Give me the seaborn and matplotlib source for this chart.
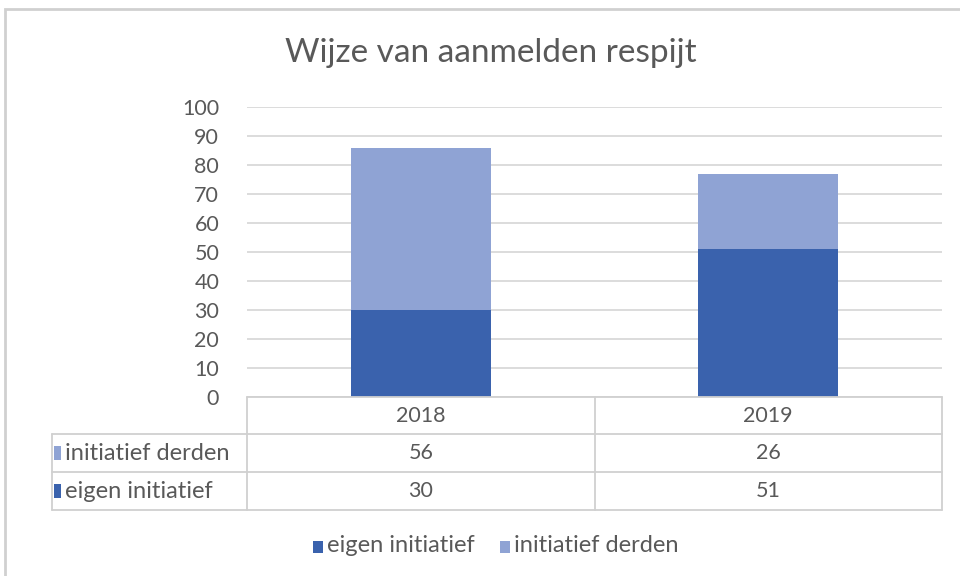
import matplotlib
matplotlib.use("Agg")
import matplotlib.pyplot as plt
import seaborn as sns
import pandas as pd
from matplotlib.patches import Rectangle
from matplotlib.lines import Line2D

years = ["2018", "2019"]
eigen = [30, 51]
derden = [56, 26]
series_names = ["eigen initiatief", "initiatief derden"]
title = "Wijze van aanmelden respijt"

dark = "#3A62AD"
light = "#8FA3D4"
txt = "#595959"
gridc = "#D9D9D9"

sns.set_theme(style="white")
plt.rcParams['font.family'] = ['Lato', 'DejaVu Sans']

W, H = 960, 576
fig = plt.figure(figsize=(9.6, 5.76), dpi=100)

def fx(px): return px / W
def fy(py): return 1 - py / H

# chart frame
fig.patches.append(Rectangle((fx(5), fy(600)), fx(1000) - fx(5), fy(9) - fy(600),
                             transform=fig.transFigure, fill=False, edgecolor="#D0D0D0", lw=2))

L, R, T, B = 247, 942, 107, 397
ax = fig.add_axes([fx(L), fy(B), fx(R) - fx(L), fy(T) - fy(B)])

df = pd.DataFrame({"year": years, "eigen": eigen, "derden": derden})
df["total"] = df["eigen"] + df["derden"]
sns.barplot(data=df, x="year", y="total", color=light, width=0.403, ax=ax,
            saturation=1, edgecolor="none", zorder=2)
sns.barplot(data=df, x="year", y="eigen", color=dark, width=0.403, ax=ax,
            saturation=1, edgecolor="none", zorder=3)

ax.set_ylim(0, 100)
ax.set_xlim(-0.5, 1.5)
ax.set_yticks(range(0, 101, 10))
ax.set_yticklabels([str(v) for v in range(0, 101, 10)], fontsize=15.5, color=txt)
ax.tick_params(axis="y", length=0, pad=20)
ax.set_xticks([])
ax.set_xlabel("")
ax.set_ylabel("")
ax.yaxis.grid(True, color=gridc, lw=1.3, zorder=0)
ax.set_axisbelow(True)
for s in ax.spines.values():
    s.set_visible(False)
ax.patch.set_alpha(0)

fig.text(fx(491), fy(53), title, ha="center", va="center", fontsize=24, color=txt)

# data table
tc = "#D0D0D0"
def hline(y, x0, x1):
    fig.lines.append(Line2D([fx(x0), fx(x1)], [fy(y), fy(y)], transform=fig.transFigure, color=tc, lw=1.3))
def vline(x, y0, y1):
    fig.lines.append(Line2D([fx(x), fx(x)], [fy(y0), fy(y1)], transform=fig.transFigure, color=tc, lw=1.3))

hline(397, 247, 942)
hline(434, 52, 942)
hline(472, 52, 942)
hline(510, 52, 942)
vline(247, 397, 510)
vline(595, 397, 510)
vline(942, 397, 510)
vline(52, 434, 510)

xc = [421, 768]
for x, yr in zip(xc, years):
    fig.text(fx(x), fy(415.5), yr, ha="center", va="center", fontsize=15.5, color=txt)
for x, v in zip(xc, derden):
    fig.text(fx(x), fy(453), str(v), ha="center", va="center", fontsize=15.5, color=txt)
for x, v in zip(xc, eigen):
    fig.text(fx(x), fy(491), str(v), ha="center", va="center", fontsize=15.5, color=txt)

# row labels with keys
for ycen, name, col in [(453, series_names[1], light), (491, series_names[0], dark)]:
    fig.patches.append(Rectangle((fx(54), fy(ycen + 7)), fx(7), fy(ycen - 7) - fy(ycen + 7),
                                 transform=fig.transFigure, color=col, ec="none"))
    fig.text(fx(65), fy(ycen), name, ha="left", va="center", fontsize=17, color=txt)

# legend
for xk, name, col in [(313, series_names[0], dark), (500, series_names[1], light)]:
    fig.patches.append(Rectangle((fx(xk), fy(553)), fx(10), fy(541) - fy(553),
                                 transform=fig.transFigure, color=col, ec="none"))
    fig.text(fx(xk + 14), fy(546), name, ha="left", va="center", fontsize=17, color=txt)

fig.savefig("out.png", dpi=100)
